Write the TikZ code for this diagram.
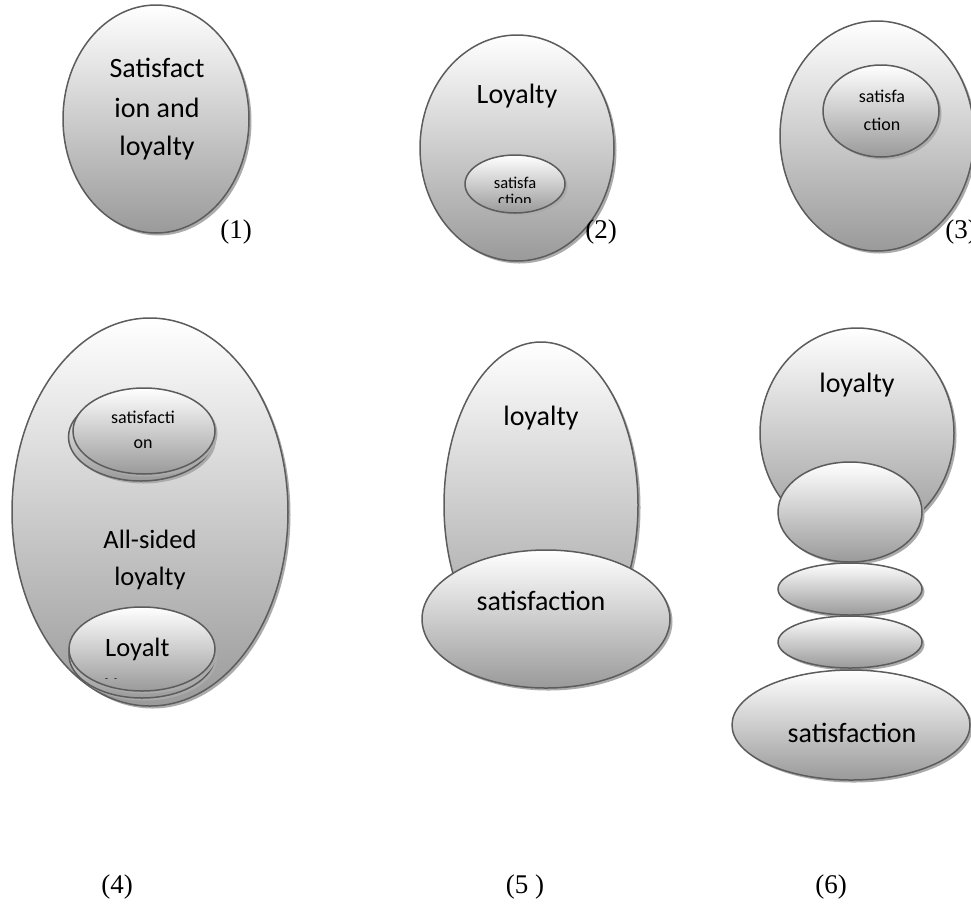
\documentclass[tikz,border=0pt]{standalone}
\usepackage{fontspec}
\setmainfont{Carlito}
\newfontfamily\numfont{Liberation Serif}
\usetikzlibrary{shapes.geometric,shadows}

\definecolor{rim}{HTML}{5C5C5C}
\definecolor{shade}{HTML}{9A9A9A}
\definecolor{shadowgray}{HTML}{ABABAB}

\tikzset{
  bubble/.style 2 args={ellipse, inner sep=0pt, outer sep=0pt,
    minimum width=#1, minimum height=#2,
    draw=rim, line width=1.5pt, top color=white, bottom color=shade,
    drop shadow={shadow xshift=2.5pt, shadow yshift=-2.5pt,
                 fill=shadowgray, opacity=1}},
  big/.style={font=\fontsize{28}{28}\selectfont, inner sep=0pt, anchor=base},
  mid/.style={font=\fontsize{26.5}{26.5}\selectfont, inner sep=0pt, anchor=base},
  small/.style={font=\fontsize{18}{18}\selectfont, inner sep=0pt, anchor=base},
  tiny/.style={font=\fontsize{16.5}{16.5}\selectfont, inner sep=0pt, anchor=base},
  num/.style={font=\numfont\fontsize{27}{27}\selectfont, inner sep=0pt}
}

\begin{document}
\begin{tikzpicture}[x=1pt,y=-1pt]
\useasboundingbox (0,0) rectangle (971,903);

% (1) satisfaction and loyalty coincide
\node[bubble={186pt}{228pt}] (e1) at (156,119) {};
\node[big] (t1a) at (157,77) {Satisfact};
\node[big] (t1b) at (157,117) {ion and};
\node[big] (t1c) at (157,155) {loyalty};
\node[num] (n1) at (236,232) {(1)};

% (2) satisfaction inside loyalty
\node[bubble={194pt}{226pt}] (e2) at (517,148) {};
\node[big] (t2) at (517,103) {Loyalty};
\node[bubble={100pt}{58pt}] (e2s) at (515,184) {};
\node[tiny] (t2a) at (515,188) {satisfa};
\begin{scope}
  \clip (465,190) rectangle (565,202);
  \node[tiny] (t2b) at (515,205) {ction};
\end{scope}
\node[num] (n2) at (601,232) {(2)};

% (3) satisfaction near the top of the outer region
\node[bubble={194pt}{230pt}] (e3) at (877,136) {};
\node[bubble={116pt}{92pt}] (e3s) at (881,111) {};
\node[small] (t3a) at (882,102) {satisfa};
\node[small] (t3b) at (882,130) {ction};
\node[num] (n3) at (961,232) {(3)};

% (4) all-sided loyalty
\node[bubble={276pt}{388pt}] (e4) at (150,512) {};
\node[bubble={145pt}{88pt}] (e4sb) at (141,437) {};
\node[bubble={142pt}{86pt}] (e4s) at (144,431) {};
\node[small] (t4a) at (143,423) {satisfacti};
\node[small] (t4b) at (143,448) {on};
\node[mid] (t4c) at (150,548) {All-sided};
\node[mid] (t4d) at (150,585) {loyalty};
\node[bubble={146pt}{86pt}] (e4lb) at (142,655) {};
\node[bubble={146pt}{84pt}] (e4l) at (142,649) {};
\node[mid, anchor=base west] (t4e) at (105,656) {Loyalt};
\begin{scope}
  \clip (100,660) rectangle (130,678.5);
  \node[mid, anchor=base west] (t4f) at (105,691) {y};
\end{scope}
\node[num] (n4) at (117,887) {(4)};

% (5) loyalty resting on satisfaction
\node[bubble={194pt}{326pt}] (e5l) at (541,505) {};
\node[big] (t5a) at (541,425) {loyalty};
\node[bubble={248pt}{138pt}] (e5s) at (546,619) {};
\node[big] (t5b) at (541,610) {satisfaction};
\node[num] (n5) at (525,887) {(5 )};

% (6) stacked stages from satisfaction to loyalty
\node[bubble={194pt}{210pt}] (e6a) at (857,433) {};
\node[big] (t6a) at (857,392) {loyalty};
\node[bubble={144pt}{100pt}] (e6b) at (850,512) {};
\node[bubble={144pt}{52pt}] (e6c) at (850,589) {};
\node[bubble={144pt}{52pt}] (e6d) at (850,642) {};
\node[bubble={238pt}{110pt}] (e6e) at (851,725) {};
\node[big] (t6b) at (852,742) {satisfaction};
\node[num] (n6) at (831,887) {(6)};
\end{tikzpicture}
\end{document}
